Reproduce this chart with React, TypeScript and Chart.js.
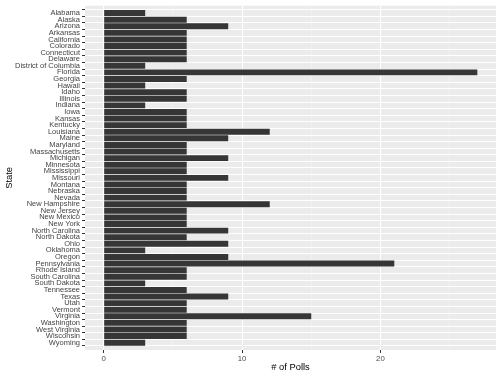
import React, { useEffect, useRef } from "react";
import { Chart, registerables } from "chart.js";

Chart.register(...registerables);

const states: string[] = [
  "Alabama", "Alaska", "Arizona", "Arkansas", "California", "Colorado", "Connecticut",
  "Delaware", "District of Columbia", "Florida", "Georgia", "Hawaii", "Idaho", "Illinois",
  "Indiana", "Iowa", "Kansas", "Kentucky", "Louisiana", "Maine", "Maryland", "Massachusetts",
  "Michigan", "Minnesota", "Mississippi", "Missouri", "Montana", "Nebraska", "Nevada",
  "New Hampshire", "New Jersey", "New Mexico", "New York", "North Carolina", "North Dakota",
  "Ohio", "Oklahoma", "Oregon", "Pennsylvania", "Rhode Island", "South Carolina",
  "South Dakota", "Tennessee", "Texas", "Utah", "Vermont", "Virginia", "Washington",
  "West Virginia", "Wisconsin", "Wyoming",
];

const polls: number[] = [
  3, 6, 9, 6, 6, 6, 6,
  6, 3, 27, 6, 3, 6, 6,
  3, 6, 6, 6, 12, 9, 6, 6,
  9, 6, 6, 9, 6, 6, 6,
  12, 6, 6, 6, 9, 6,
  9, 3, 9, 21, 6, 6,
  3, 6, 9, 6, 6, 15, 6,
  6, 6, 3,
];

const xTickValues: number[] = [0, 5, 10, 15, 20, 25];

const FONT = "'Liberation Sans', Arial, Helvetica, sans-serif";

const panelBg = {
  id: "panelBg",
  beforeDraw(chart: any) {
    const { ctx, chartArea } = chart;
    ctx.save();
    ctx.fillStyle = "#EBEBEB";
    ctx.fillRect(chartArea.left, chartArea.top, chartArea.right - chartArea.left, chartArea.bottom - chartArea.top);
    ctx.restore();
  },
};

export default function App() {
  const ref = useRef<HTMLCanvasElement | null>(null);

  useEffect(() => {
    if (!ref.current) return;
    const chart = new Chart(ref.current, {
      type: "bar",
      data: {
        datasets: [
          {
            label: "# of Polls",
            data: polls.map((v, i) => ({ x: v, y: i })),
            backgroundColor: "#363636",
            borderWidth: 0,
            categoryPercentage: 0.9,
            barPercentage: 1,
          },
        ],
      },
      options: {
        indexAxis: "y",
        responsive: false,
        animation: false,
        devicePixelRatio: 1,
        layout: { padding: { left: 0, right: 4, top: 3, bottom: 0 } },
        plugins: {
          legend: { display: false },
          tooltip: { enabled: false },
        },
        scales: {
          x: {
            type: "linear",
            min: -1.35,
            max: 28.35,
            afterBuildTicks: (scale: any) => {
              scale.ticks = xTickValues.map((v) => ({ value: v }));
            },
            afterFit: (scale: any) => {
              scale.height = 26;
            },
            border: { display: false },
            grid: {
              color: (ctx: any) => (ctx.tick && ctx.tick.value % 10 === 0 ? "#FFFFFF" : "rgba(255,255,255,0.55)"),
              lineWidth: (ctx: any) => (ctx.tick && ctx.tick.value % 10 === 0 ? 1 : 0.6),
              tickColor: (ctx: any) => (ctx.tick && ctx.tick.value % 10 === 0 ? "#333333" : "rgba(0,0,0,0)"),
              tickLength: 3,
            },
            ticks: {
              autoSkip: false,
              maxRotation: 0,
              padding: 1,
              color: "#4D4D4D",
              font: { family: FONT, size: 7.8 },
              callback: (v: any) => (Number(v) % 10 === 0 ? String(v) : ""),
            },
            title: {
              display: true,
              text: "# of Polls",
              color: "#000000",
              font: { family: FONT, size: 9.4 },
              padding: { top: 0, bottom: 3 },
            },
          },
          y: {
            type: "linear",
            reverse: true,
            min: -0.6,
            max: states.length - 1 + 0.6,
            afterBuildTicks: (scale: any) => {
              scale.ticks = states.map((_, i) => ({ value: i }));
            },
            afterFit: (scale: any) => {
              scale.width = 85;
            },
            border: { display: false },
            grid: {
              color: "#FFFFFF",
              lineWidth: 1,
              tickColor: "#333333",
              tickLength: 3,
            },
            ticks: {
              autoSkip: false,
              padding: 2,
              color: "#444444",
              font: { family: FONT, size: 7.5, lineHeight: 1 },
              callback: (v: any) => states[Number(v)] ?? "",
            },
            title: {
              display: true,
              text: "State",
              color: "#000000",
              font: { family: FONT, size: 9.4 },
              padding: { top: 3.5, bottom: 0 },
            },
          },
        },
      },
      plugins: [panelBg],
    } as any);
    return () => chart.destroy();
  }, []);

  return (
    <div style={{ position: "fixed", left: 0, top: 0, width: 500, height: 376, background: "#FFFFFF" }}>
      <canvas ref={ref} width={500} height={376} style={{ width: 500, height: 376, display: "block" }} />
    </div>
  );
}
